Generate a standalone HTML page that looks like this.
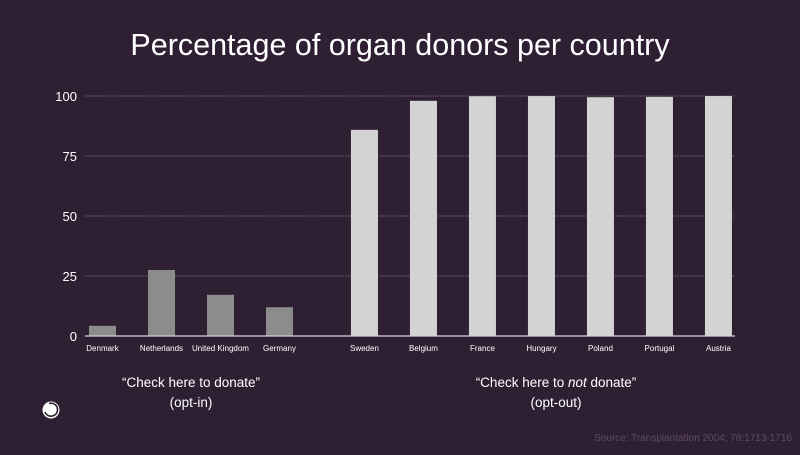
<!DOCTYPE html>
<html><head><meta charset="utf-8">
<style>
html,body{margin:0;padding:0;background:#2e1f33;}
body{width:800px;height:450px;overflow:hidden;font-family:"Liberation Sans",sans-serif;}
</style></head>
<body>
<svg id="chart" width="800" height="450" viewBox="0 0 800 450" xmlns="http://www.w3.org/2000/svg">
<rect width="800" height="450" fill="#2e1f33"/>
<text x="400" y="55" text-anchor="middle" fill="#ffffff" font-size="30.5" font-family="Liberation Sans, sans-serif">Percentage of organ donors per country</text>
<g id="grid"></g>
<g id="bars"></g>
<g id="labels"></g>
<line x1="85" y1="336" x2="735" y2="336" stroke="#d9cfd9" stroke-width="1.2"/>
<text x="191" y="387" text-anchor="middle" fill="#ffffff" font-size="13.5">“Check here to donate”</text>
<text x="191" y="407" text-anchor="middle" fill="#ffffff" font-size="13.5">(opt-in)</text>
<text x="556" y="387" text-anchor="middle" fill="#ffffff" font-size="13.5">“Check here to <tspan font-style="italic">not</tspan> donate”</text>
<text x="556" y="407" text-anchor="middle" fill="#ffffff" font-size="13.5">(opt-out)</text>
<text x="792" y="441" text-anchor="end" fill="#5e4a63" font-size="10">Source: Transplantation 2004; 78:1713-1716</text>
<g>
<circle cx="51" cy="410" r="8.5" fill="#ffffff"/>
<path d="M49 403.5 A6.5 6.5 0 1 1 45 412" fill="none" stroke="#2e1f33" stroke-width="1.6"/>
</g>
</svg>
<script>
const categories=["Denmark","Netherlands","United Kingdom","Germany","Sweden","Belgium","France","Hungary","Poland","Portugal","Austria"];
const values=[4.25,27.5,17.17,12,85.9,98,99.91,99.97,99.5,99.64,99.98];
const groups=["in","in","in","in","out","out","out","out","out","out","out"];
const yTicks=[0,25,50,75,100];
const ns="http://www.w3.org/2000/svg";
const y0=336,yTop=96,yMax=100;
function yScale(v){return y0-(v/yMax)*(y0-yTop);}
function xCenter(i){const gap=i>=4?0.44:0;return 102.5+(i+gap)*59;}
const barW=27;
const grid=document.getElementById('grid');
yTicks.forEach(t=>{
  const y=yScale(t);
  if(t>0){
    const l=document.createElementNS(ns,'line');
    
    
    l.setAttribute('x1',85);l.setAttribute('x2',735);
    l.setAttribute('y1',y);l.setAttribute('y2',y);
    l.setAttribute('stroke','#8a7a8e');l.setAttribute('stroke-width','0.8');
    l.setAttribute('stroke-dasharray','1.5 1');
    grid.appendChild(l);
  }
  const tx=document.createElementNS(ns,'text');
  
  
  tx.setAttribute('x',77);tx.setAttribute('y',y+5);
  tx.setAttribute('text-anchor','end');tx.setAttribute('fill','#ffffff');
  tx.setAttribute('font-size','13');
  tx.textContent=t;
  grid.appendChild(tx);
});
const bars=document.getElementById('bars'),labels=document.getElementById('labels');
categories.forEach((c,i)=>{
  const cx=xCenter(i),y=yScale(values[i]);
  const r=document.createElementNS(ns,'rect');
  
  
  r.setAttribute('x',cx-barW/2);r.setAttribute('y',y);
  r.setAttribute('width',barW);r.setAttribute('height',y0-y);
  r.setAttribute('fill',groups[i]==='in'?'#8c8c8c':'#d3d3d3');
  bars.appendChild(r);
  const t=document.createElementNS(ns,'text');
  
  
  t.setAttribute('x',cx);t.setAttribute('y',351);
  t.setAttribute('text-anchor','middle');t.setAttribute('fill','#ffffff');
  t.setAttribute('font-size','8');
  t.textContent=c;
  labels.appendChild(t);
});
</script>
</body></html>
